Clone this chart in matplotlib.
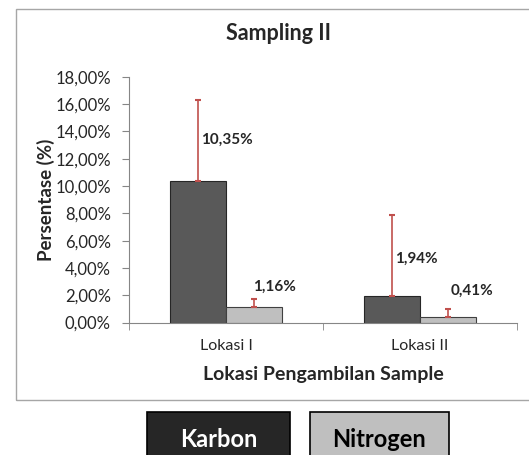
import numpy as np
import matplotlib
matplotlib.use("Agg")
import matplotlib.pyplot as plt
from matplotlib.patches import Rectangle

# data
locations = ["Lokasi I", "Lokasi II"]
karbon = [10.35, 1.94]
nitrogen = [1.16, 0.41]
karbon_err = [5.95, 5.95]
nitrogen_err = [0.55, 0.55]
karbon_labels = ["10,35%", "1,94%"]
nitrogen_labels = ["1,16%", "0,41%"]

# where the value labels sit (data units), as in the original
karbon_label_y = [13.4, 4.7]
nitrogen_label_y = [2.6, 2.3]

plt.rcParams['font.family'] = ['Lato', 'DejaVu Sans']

dark = "#595959"
light = "#bfbfbf"
err_col = "#c0504d"
axis_col = "#868686"
txt = "#262626"

fig = plt.figure(figsize=(5.29, 4.55), dpi=100)
fig.patch.set_facecolor("white")

# chart area border (runs off the right edge in the original)
fig.patches.append(Rectangle((0.030, 0.121), 1.05, 0.859, transform=fig.transFigure,
                             fill=False, edgecolor="#a6a6a6", linewidth=1.0))

ax = fig.add_axes([0.2439, 0.291, 0.7335, 0.5404])
x = np.arange(len(locations))
w = 0.289

ax.bar(x - w / 2, karbon, w, color=dark, edgecolor="#262626", linewidth=0.8,
       yerr=[np.zeros(len(karbon)), karbon_err],
       error_kw=dict(ecolor=err_col, elinewidth=1.2, capsize=2.5, capthick=1.5))
ax.bar(x + w / 2, nitrogen, w, color=light, edgecolor="#404040", linewidth=0.8,
       yerr=[np.zeros(len(nitrogen)), nitrogen_err],
       error_kw=dict(ecolor=err_col, elinewidth=1.2, capsize=2.5, capthick=1.5))

for i in range(len(locations)):
    ax.text(x[i] - w / 2 + 0.018, karbon_label_y[i], karbon_labels[i],
            fontsize=11, fontweight="bold", color=txt, ha="left", va="center")
    ax.text(x[i] + w / 2 - 0.005 + (0.0 if i == 0 else 0.02), nitrogen_label_y[i],
            nitrogen_labels[i], fontsize=11, fontweight="bold", color=txt,
            ha="left", va="center")

ax.set_xlim(-0.5, 1.5)
ax.set_ylim(0, 18)
ax.set_yticks(np.arange(0, 19, 2))
ax.set_yticklabels(["%d,00%%" % v for v in range(0, 19, 2)])
ax.set_xticks(x)
ax.set_xticklabels(locations)
ax.set_xticks([-0.5, 0.5, 1.5], minor=True)
ax.tick_params(axis="x", which="major", length=0, pad=12, labelsize=11.5, colors=txt)
ax.tick_params(axis="x", which="minor", length=5, color=axis_col, direction="out")
ax.tick_params(axis="y", length=5, color=axis_col, labelsize=12, labelcolor=txt, pad=8)

for side in ["top", "right"]:
    ax.spines[side].set_visible(False)
ax.spines["left"].set_color(axis_col)
ax.spines["bottom"].set_color(axis_col)

ax.set_ylabel("Persentase (%)", fontsize=13.5, fontweight="bold", labelpad=0, color=txt)
ax.set_xlabel("Lokasi Pengambilan Sample", fontsize=14, fontweight="bold", labelpad=9, color=txt)
fig.text(0.527, 0.927, "Sampling II", fontsize=15.5, fontweight="bold",
         ha="center", va="center", color=txt)

# legend boxes below the chart, like the original
fig.patches.append(Rectangle((0.278, -0.05), 0.270, 0.145, transform=fig.transFigure,
                             facecolor="#262626", edgecolor="#000000", linewidth=1.2))
fig.patches.append(Rectangle((0.586, -0.05), 0.263, 0.145, transform=fig.transFigure,
                             facecolor=light, edgecolor="#000000", linewidth=1.2))
fig.text(0.413, 0.033, "Karbon", fontsize=17, fontweight="bold", color="white",
         ha="center", va="center")
fig.text(0.717, 0.033, "Nitrogen", fontsize=17, fontweight="bold", color="black",
         ha="center", va="center")

fig.savefig("out.png", dpi=100)
